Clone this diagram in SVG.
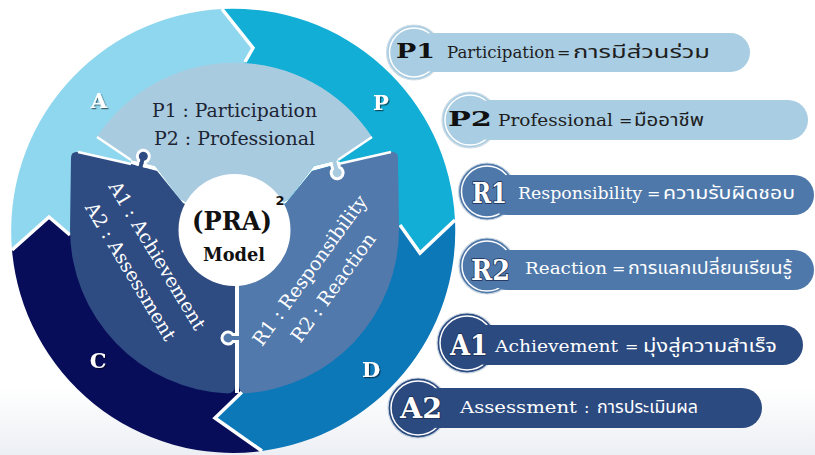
<svg xmlns="http://www.w3.org/2000/svg" width="815" height="455" viewBox="0 0 815 455">
<defs>
<style>
.gapl{stroke:#fff;stroke-width:2.5;fill:none;stroke-linejoin:round}
.ringgap{stroke:#fff;stroke-width:3.5;fill:none;stroke-linejoin:miter}
.ringlbl{font-family:"DejaVu Serif","Liberation Serif",serif;font-weight:bold;font-size:21px;fill:#fff;text-anchor:middle}
.pz{font-family:"DejaVu Serif","Liberation Serif",serif;font-size:18px;text-anchor:middle}
.pzr{font-family:"DejaVu Serif","Liberation Serif",serif;font-size:19px;text-anchor:middle;fill:#fff}
.en{font-family:"DejaVu Serif","Liberation Serif",serif;font-size:16px}
.th{font-family:"Noto Sans Thai","Noto Sans","DejaVu Sans",sans-serif;font-size:17px}
.badge{font-family:"DejaVu Serif","Liberation Serif",serif;font-weight:bold}
.bring{fill:none;stroke:#fff;stroke-width:1.5}
.light{fill:#a9cde2}
.mid{fill:#4e78aa}
.dark{fill:#2b4a80}
.wt{fill:#fff;stroke:#1d2f55;stroke-width:1.6;paint-order:stroke}
</style>
<filter id="sh" x="-20%" y="-20%" width="140%" height="140%"><feDropShadow dx="1.2" dy="1.2" stdDeviation="0.7" flood-color="#000" flood-opacity="0.55"/></filter>
<linearGradient id="bg" x1="0" y1="0" x2="0" y2="1"><stop offset="0.85" stop-color="#ffffff"/><stop offset="1" stop-color="#eceff4"/></linearGradient>
<path id="knob" d="M0,-3.5 L4.13,-3.5 A6,6 0 1 1 4.13,3.5 L0,3.5 Z"/>
</defs>
<rect width="815" height="455" fill="url(#bg)"/>

<g id="ring">
<path id="segA" d="M233,231 L70,235 L49,217 L12,250 A222,222 0 0 1 222,9 L253,48 L245,62 Z" fill="#8fd7ee"/>
<path id="segP" d="M233,231 L245,62 L253,48 L222,9 A222,222 0 0 1 455,220 L420,253 L400,225 Z" fill="#13aed6"/>
<path id="segD" d="M233,231 L400,225 L420,253 L455,220 A222,222 0 0 1 262,451 L215,418 L242,392 Z" fill="#0c78b8"/>
<path id="segC" d="M233,231 L242,392 L215,418 L262,451 A222,222 0 0 1 12,250 L49,217 L70,235 Z" fill="#080d5a"/>
</g>
<g id="ring-boundaries">
<polyline class="ringgap" points="245,62 253,48 222,9"/>
<polyline class="ringgap" points="400,225 420,253 455,220"/>
<polyline class="ringgap" points="242,392 215,418 262,451"/>
<polyline class="ringgap" points="70,235 49,217 12,250"/>
</g>
<g id="ring-labels" filter="url(#sh)">
<text class="ringlbl" x="99" y="108">A</text>
<text class="ringlbl" x="381" y="110">P</text>
<text class="ringlbl" x="98" y="368">C</text>
<text class="ringlbl" x="371" y="377">D</text>
</g>

<g id="puzzle">
<polygon id="gap-white" fill="#fff" points="234.5,229 183,203 157,171 131,164 131,160 155,166 180,199 234.5,229 289,199 314,166 338,160 338,164 312,171 286,203 234.5,229 235,229 235,393 239,393 239,229"/>
<path id="pz-left" d="M234.5,229 L183,203 L157,171 L131,164 L78,152 Q71,151 71,158 L70,229 A164.5,164.5 0 0 0 228,393.4 Q235,393 235,386 L235,229 Z" fill="#2f4c82"/>
<path id="pz-right" d="M234.5,229 L239,229 L239,386 Q239,393 246,393.2 A164.5,164.5 0 0 0 399,229 L398,158 Q398,151 391,152 L338,164 L312,171 L286,203 Z" fill="#5179ab"/>
<path id="pz-top" d="M234.5,229 L180,199 L155,166 L131,160 L100,140 Q97,138 97,137 A164.5,164.5 0 0 1 372,137 L338,160 L314,166 L289,199 Z" fill="#a9cbe0"/>
<polyline class="gapl" points="131,164 78,152"/>
<polyline class="gapl" points="131,160 97,137"/>
<polyline class="gapl" points="338,164 391,152"/>
<polyline class="gapl" points="338,160 372,137"/>
<g id="knob-left" transform="translate(141,165) rotate(-75)">
<use href="#knob" fill="#2f4c82" stroke="#fff" stroke-width="3"/>
<rect x="-3.5" y="-2" width="6" height="4" fill="#2f4c82"/>
</g>
<g id="knob-top" transform="translate(335,164) rotate(76)">
<use href="#knob" fill="#a9cbe0" stroke="#fff" stroke-width="3"/>
<rect x="-3.5" y="-2" width="6" height="4" fill="#a9cbe0"/>
</g>
<g id="knob-right" transform="translate(237,338) rotate(180)">
<use href="#knob" fill="#5179ab" stroke="#fff" stroke-width="3"/>
<rect x="-3.5" y="-2" width="6" height="4" fill="#5179ab"/>
</g>
<g id="pz-top-text" fill="#1d2433">
<text class="pz" x="234.5" y="117" textLength="165" lengthAdjust="spacingAndGlyphs">P1 : Participation</text>
<text class="pz" x="234.5" y="145" textLength="161" lengthAdjust="spacingAndGlyphs">P2 : Professional</text>
</g>
<g id="pz-left-text" transform="translate(143,264) rotate(59)">
<text class="pzr" x="0" y="-10">A1 : Achievement</text>
<text class="pzr" x="0" y="21">A2 : Assessment</text>
</g>
<g id="pz-right-text" transform="translate(321.5,279) rotate(-54)">
<text class="pzr" x="0" y="-8">R1 : Responsibility</text>
<text class="pzr" x="0" y="21">R2 : Reaction</text>
</g>
</g>

<g id="center">
<circle cx="234.5" cy="230" r="56" fill="#fff"/>
<text class="badge" x="232" y="230" font-size="26" text-anchor="middle" textLength="80" lengthAdjust="spacingAndGlyphs" fill="#111">(PRA)</text>
<text x="280" y="205" font-family="DejaVu Sans,sans-serif" font-weight="bold" font-size="13" text-anchor="middle" fill="#111">2</text>
<text class="badge" x="234" y="261" font-size="19" text-anchor="middle" textLength="62" lengthAdjust="spacingAndGlyphs" fill="#111">Model</text>
</g>

<g id="p1">
<circle class="light" cx="414" cy="52.5" r="27.5" stroke="#cfdde6" stroke-width="1.2"/>
<circle class="bring" cx="414" cy="52.5" r="24.5"/>
<rect class="light" x="414" y="33" width="336" height="39" rx="19.5"/>
<text class="badge" x="396" y="58" font-size="21" textLength="39" lengthAdjust="spacingAndGlyphs" fill="#111">P1</text>
<text class="en" y="58" fill="#1e1e1e"><tspan x="447" textLength="108" lengthAdjust="spacingAndGlyphs">Participation</tspan><tspan x="557">=</tspan><tspan class="th" x="573" textLength="137" lengthAdjust="spacingAndGlyphs">การมีส่วนร่วม</tspan></text>
</g>
<g id="p2">
<circle class="light" cx="470" cy="120" r="28" stroke="#cfdde6" stroke-width="1.2"/>
<circle class="bring" cx="470" cy="120" r="25"/>
<rect class="light" x="470" y="100" width="338" height="40" rx="20"/>
<text class="badge" x="448" y="126" font-size="20" textLength="44" lengthAdjust="spacingAndGlyphs" fill="#111">P2</text>
<text class="en" y="126" fill="#1e1e1e"><tspan x="498" textLength="115" lengthAdjust="spacingAndGlyphs">Professional</tspan><tspan x="619">=</tspan><tspan class="th" x="634" textLength="70" lengthAdjust="spacingAndGlyphs">มืออาชีพ</tspan></text>
</g>
<g id="r1">
<circle class="mid" cx="487" cy="191.5" r="28.5" stroke="#c9d6e2" stroke-width="1.2"/>
<circle class="bring" cx="487" cy="191.5" r="25.5"/>
<rect class="mid" x="487" y="175" width="327" height="40" rx="20"/>
<text class="badge wt" x="472" y="203" font-size="27" textLength="35" lengthAdjust="spacingAndGlyphs">R1</text>
<text class="en" y="199" fill="#fff"><tspan x="518" textLength="124" lengthAdjust="spacingAndGlyphs">Responsibility</tspan><tspan x="647">=</tspan><tspan class="th" x="663" textLength="132" lengthAdjust="spacingAndGlyphs">ความรับผิดชอบ</tspan></text>
</g>
<g id="r2">
<circle class="mid" cx="487" cy="266" r="28" stroke="#c9d6e2" stroke-width="1.2"/>
<circle class="bring" cx="487" cy="266" r="25"/>
<rect class="mid" x="487" y="250" width="327" height="40" rx="20"/>
<text class="badge wt" x="471" y="280" font-size="27" textLength="39" lengthAdjust="spacingAndGlyphs">R2</text>
<text class="en" y="274" fill="#fff"><tspan x="525" textLength="82" lengthAdjust="spacingAndGlyphs">Reaction</tspan><tspan x="612">=</tspan><tspan class="th" x="628" textLength="164" lengthAdjust="spacingAndGlyphs">การแลกเปลี่ยนเรียนรู้</tspan></text>
</g>
<g id="a1">
<circle class="dark" cx="467" cy="343" r="30" stroke="#c9d6e2" stroke-width="1.2"/>
<circle class="bring" cx="467" cy="343" r="27"/>
<rect class="dark" x="467" y="325" width="336" height="40" rx="20"/>
<text class="badge wt" x="450" y="355" font-size="27" textLength="38" lengthAdjust="spacingAndGlyphs">A1</text>
<text class="en" y="352" fill="#fff"><tspan x="495" textLength="123" lengthAdjust="spacingAndGlyphs">Achievement</tspan><tspan x="625">=</tspan><tspan class="th" x="643" textLength="134" lengthAdjust="spacingAndGlyphs">มุ่งสู่ความสำเร็จ</tspan></text>
</g>
<g id="a2">
<circle class="dark" cx="418" cy="408" r="30" stroke="#c9d6e2" stroke-width="1.2"/>
<circle class="bring" cx="418" cy="408" r="27"/>
<rect class="dark" x="418" y="388" width="344" height="40" rx="20"/>
<text class="badge wt" x="400" y="418" font-size="27" textLength="42" lengthAdjust="spacingAndGlyphs">A2</text>
<text class="en" y="413" fill="#fff"><tspan x="460" textLength="117" lengthAdjust="spacingAndGlyphs">Assessment</tspan><tspan x="584">:</tspan><tspan class="th" x="597" textLength="101" lengthAdjust="spacingAndGlyphs">การประเมินผล</tspan></text>
</g>
</svg>
